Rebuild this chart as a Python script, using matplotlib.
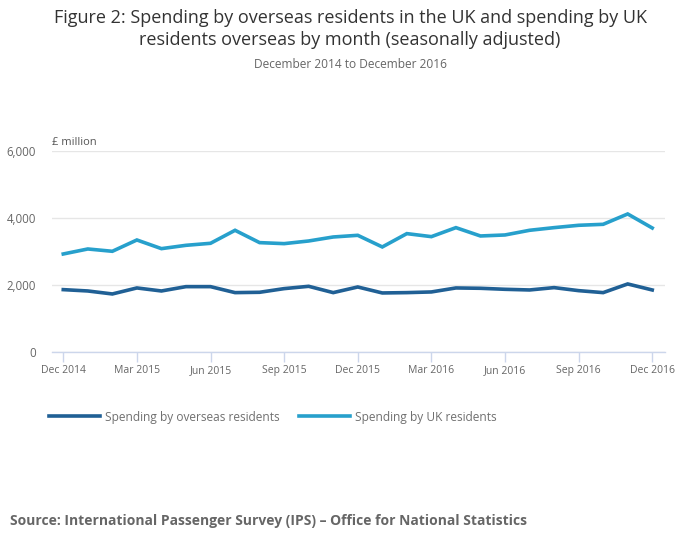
import matplotlib
matplotlib.use("Agg")
import matplotlib.pyplot as plt

months = ["Dec 2014","Jan 2015","Feb 2015","Mar 2015","Apr 2015","May 2015","Jun 2015",
          "Jul 2015","Aug 2015","Sep 2015","Oct 2015","Nov 2015","Dec 2015",
          "Jan 2016","Feb 2016","Mar 2016","Apr 2016","May 2016","Jun 2016",
          "Jul 2016","Aug 2016","Sep 2016","Oct 2016","Nov 2016","Dec 2016"]
overseas = [1865,1825,1736,1915,1825,1954,1954,1776,1786,1895,1964,1776,1944,
            1766,1776,1796,1915,1905,1875,1855,1925,1835,1776,2034,1855]
uk_res = [2926,3075,3006,3343,3085,3184,3244,3631,3264,3234,3313,3432,3482,
          3135,3532,3442,3710,3462,3492,3631,3710,3780,3809,4117,3700]
y_ticks = [0, 2000, 4000, 6000]
y_tick_labels = ["0", "2,000", "4,000", "6,000"]

plt.rcParams['font.family'] = ['Open Sans', 'DejaVu Sans']

fig = plt.figure(figsize=(7.0, 5.49), dpi=100)
ax = fig.add_axes([0.0739, 0.3583, 0.8761, 0.3672])

x = list(range(len(months)))
l1, = ax.plot(x, overseas, color="#206095", lw=2.6, solid_joinstyle="miter",
              label="Spending by overseas residents")
l2, = ax.plot(x, uk_res, color="#27a0cc", lw=2.6, solid_joinstyle="miter",
              label="Spending by UK residents")

ax.set_xlim(-0.47, 24.52)
ax.set_ylim(0, 6000)
ax.set_yticks(y_ticks)
ax.set_yticklabels(y_tick_labels)
tick_pos = x[::3]
ax.set_xticks(tick_pos)
ax.set_xticklabels([months[i] for i in tick_pos])

for s in ["top", "right", "left"]:
    ax.spines[s].set_visible(False)
ax.spines["bottom"].set_color("#ccd6eb")
ax.spines["bottom"].set_linewidth(1)
ax.grid(axis="y", color="#e6e6e6", lw=1)
ax.set_axisbelow(True)
ax.tick_params(axis="y", length=0, pad=11.5, labelsize=8.3, labelcolor="#666666")
ax.tick_params(axis="x", length=7, color="#ccd6eb", width=1, pad=2,
               labelsize=7.5, labelcolor="#666666")

fig.text(52/700, 1 - 143/549, "£ million", fontsize=8, color="#555555",
         ha="left", va="center")

fig.text(0.5, 1 - 18/549, "Figure 2: Spending by overseas residents in the UK and spending by UK",
         ha="center", va="center", fontsize=13, color="#333333")
fig.text(0.5, 1 - 40/549, "residents overseas by month (seasonally adjusted)",
         ha="center", va="center", fontsize=13, color="#333333")
fig.text(0.5, 1 - 64/549, "December 2014 to December 2016",
         ha="center", va="center", fontsize=8.6, color="#666666")

leg = fig.legend(handles=[l1, l2], loc="center left",
                 bbox_to_anchor=(38/700, 1 - 417/549), ncol=2, frameon=False,
                 fontsize=8.6, handlelength=4.3, handletextpad=0.4, columnspacing=1.6)
for t in leg.get_texts():
    t.set_color("#707070")

fig.text(10/700, 1 - 521/549,
         "Source: International Passenger Survey (IPS) \u2013 Office for National Statistics",
         ha="left", va="center", fontsize=10, fontweight="bold", color="#666666")

fig.savefig("out.png", dpi=100, facecolor="white")
